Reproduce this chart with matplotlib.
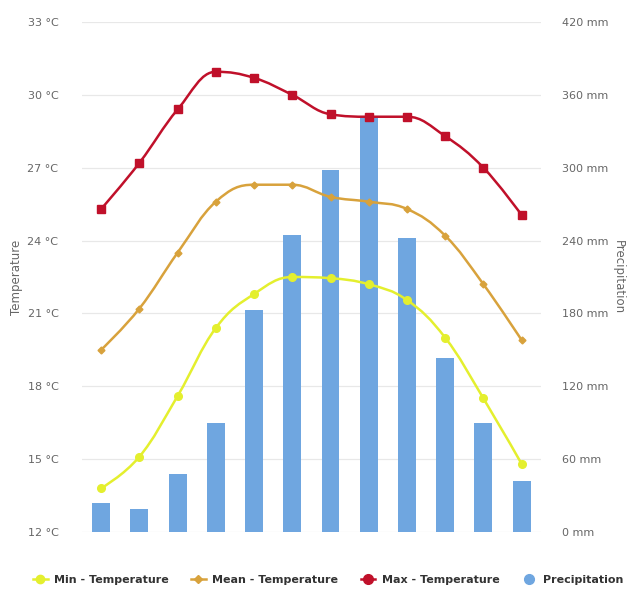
import numpy as np
import matplotlib
matplotlib.use("Agg")
import matplotlib.pyplot as plt
from matplotlib.path import Path
from matplotlib.patches import PathPatch
from matplotlib.lines import Line2D

months = ["Jan", "Feb", "Mar", "Apr", "May", "Jun", "Jul", "Aug", "Sep", "Oct", "Nov", "Dec"]
min_temp = [13.8, 15.1, 17.6, 20.4, 21.8, 22.5, 22.45, 22.2, 21.55, 20.0, 17.5, 14.8]
mean_temp = [19.5, 21.2, 23.5, 25.6, 26.3, 26.3, 25.8, 25.6, 25.3, 24.2, 22.2, 19.9]
max_temp = [25.3, 27.2, 29.4, 30.95, 30.7, 30.0, 29.2, 29.1, 29.1, 28.3, 27.0, 25.05]
precip = [24, 19, 48, 90, 183, 245, 298, 343, 242, 143, 90, 42]
temp_ticks = [12, 15, 18, 21, 24, 27, 30, 33]
precip_ticks = [0, 60, 120, 180, 240, 300, 360, 420]

C_MIN = "#e4ef2e"
C_MEAN = "#d8a23c"
C_MAX = "#c0102a"
C_PRE = "#6fa6e0"
TXT = "#666666"

fig = plt.figure(figsize=(6.31, 5.92), dpi=100)
ax2 = fig.add_axes([0.130, 0.1014, 0.727, 0.8614])
ax = ax2.twinx()
ax2.set_zorder(0)
ax.set_zorder(1)
ax.patch.set_visible(False)

x = np.arange(len(months))
ax2.bar(x, precip, width=0.47, color=C_PRE, zorder=2)
ax2.set_ylim(0, 420)
ax2.set_xlim(-0.5, 11.5)
ax.set_ylim(12, 33)

for t in temp_ticks:
    ax2.axhline((t - 12) / 21 * 420, color="#e8e8e8", lw=0.9, zorder=0)


def spline_path(xs, ys, smoothing=1.5):
    xs = list(map(float, xs)); ys = list(map(float, ys))
    n = len(xs)
    denom = smoothing + 1
    lc = [(xs[i], ys[i]) for i in range(n)]
    rc = [(xs[i], ys[i]) for i in range(n)]
    for i in range(1, n - 1):
        px, py = xs[i], ys[i]
        lx, ly = xs[i - 1], ys[i - 1]
        nx, ny = xs[i + 1], ys[i + 1]
        lcx = (smoothing * px + lx) / denom
        lcy = (smoothing * py + ly) / denom
        rcx = (smoothing * px + nx) / denom
        rcy = (smoothing * py + ny) / denom
        corr = ((rcy - lcy) * (rcx - px)) / (rcx - lcx) + py - rcy
        lcy += corr
        rcy += corr
        if lcy > ly and lcy > py:
            lcy = max(ly, py); rcy = 2 * py - lcy
        elif lcy < ly and lcy < py:
            lcy = min(ly, py); rcy = 2 * py - lcy
        if rcy > ny and rcy > py:
            rcy = max(ny, py); lcy = 2 * py - rcy
        elif rcy < ny and rcy < py:
            rcy = min(ny, py); lcy = 2 * py - rcy
        lc[i] = (lcx, lcy)
        rc[i] = (rcx, rcy)
    verts = [(xs[0], ys[0])]
    codes = [Path.MOVETO]
    for i in range(1, n):
        verts += [rc[i - 1], lc[i], (xs[i], ys[i])]
        codes += [Path.CURVE4] * 3
    return Path(verts, codes)


series = [
    (min_temp, C_MIN, "o", 5.5),
    (mean_temp, C_MEAN, "D", 3.5),
    (max_temp, C_MAX, "s", 5.5),
]
for ys, col, mk, ms in series:
    ax.add_patch(PathPatch(spline_path(x, ys), facecolor="none", edgecolor=col, lw=1.8, zorder=3))
    ax.plot(x, ys, ls="none", marker=mk, color=col, ms=ms, zorder=4)

for a in (ax, ax2):
    for s in a.spines.values():
        s.set_visible(False)
    a.tick_params(length=0, labelsize=8, labelcolor=TXT)

ax.set_yticks(temp_ticks)
ax.set_yticklabels([f"{t} °C" for t in temp_ticks])
ax.yaxis.tick_left()
ax.yaxis.set_label_position("left")
ax.tick_params(axis="y", pad=17)
ax.set_ylabel("Temperature", color=TXT, fontsize=8.5, labelpad=3)

ax2.set_yticks(precip_ticks)
ax2.set_yticklabels([f"{p} mm" for p in precip_ticks])
ax2.yaxis.tick_right()
ax2.yaxis.set_label_position("right")
ax2.tick_params(axis="y", pad=15)
ax2.set_ylabel("Precipitation", color=TXT, fontsize=8.5, rotation=270, labelpad=12)

ax2.set_xticks(x)
ax2.set_xticklabels(months)
ax2.tick_params(axis="x", pad=8, labelsize=7)
ax.set_xticks([])

handles = [
    Line2D([0], [0], color=C_MIN, lw=1.8, marker="o", ms=6),
    Line2D([0], [0], color=C_MEAN, lw=1.8, marker="D", ms=4),
    Line2D([0], [0], color=C_MAX, lw=1.8, marker="o", ms=7),
    Line2D([0], [0], color=C_PRE, lw=0, marker="o", ms=7),
]
labels = ["Min - Temperature", "Mean - Temperature", "Max - Temperature", "Precipitation"]
leg = fig.legend(handles, labels, loc="center", bbox_to_anchor=(0.52, 0.02), ncol=4,
                 frameon=False, handlelength=1.3, handletextpad=0.6, columnspacing=2.0,
                 prop={"weight": "bold", "size": 8})
for t in leg.get_texts():
    t.set_color("#333333")

fig.savefig("out.png", dpi=100)
